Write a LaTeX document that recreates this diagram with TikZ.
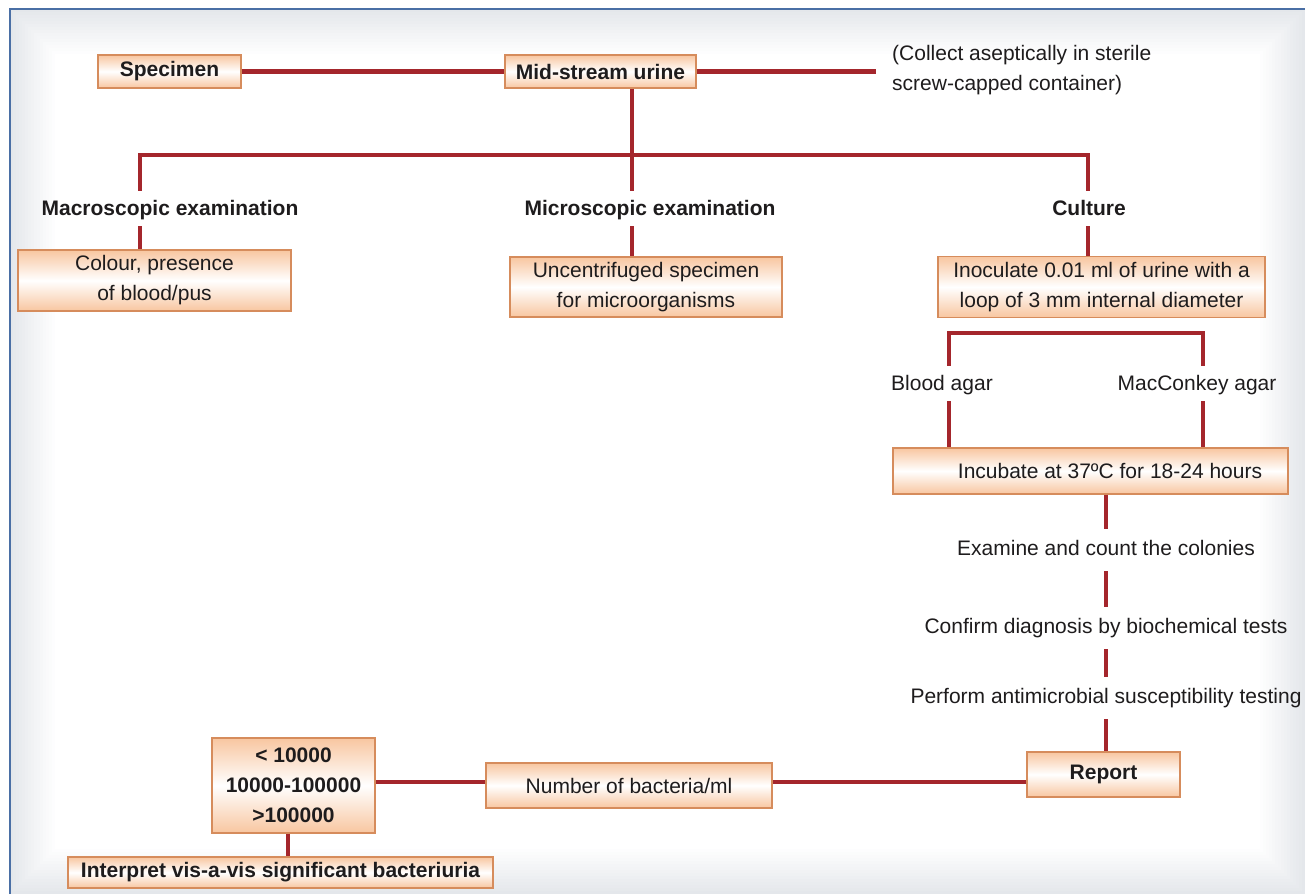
\documentclass[tikz,border=0pt]{standalone}
\usepackage{fontspec}
\setmainfont{Liberation Sans}
\usetikzlibrary{calc}
\definecolor{lred}{HTML}{A4262C}
\definecolor{boxbd}{HTML}{D68C5C}
\definecolor{boxor}{HTML}{F8C6A0}
\definecolor{txt}{HTML}{1E1C1D}
\definecolor{bgg}{HTML}{E4E7EB}
\definecolor{frameblue}{HTML}{4A6FA5}
\begin{document}
\begin{tikzpicture}[x=1pt,y=-1pt,
  font=\fontsize{21}{30}\selectfont, text=txt,
  box/.style={draw=boxbd, line width=1.3pt, top color=boxor, bottom color=boxor, middle color=white, inner sep=0pt, align=center},
  conn/.style={draw=lred, line width=4.6pt, line cap=butt, line join=miter},
  lab/.style={text height=15pt, text depth=2pt, inner ysep=9pt, inner xsep=0pt, anchor=base},
  chainlab/.style={text height=15pt, text depth=5pt, inner ysep=11pt, inner xsep=0pt, anchor=base},
  bold/.style={font=\fontsize{21}{30}\selectfont\bfseries}
]
\useasboundingbox (0,0) rectangle (1305,894);
% background
\fill[white] (0,0) rectangle (1305,894);
\foreach \i in {0,...,15} {
  \pgfmathsetmacro\p{\i*100/15}
  \fill[white!\p!bgg] (10+3*\i, 9+3*\i) rectangle (1305-3*\i, 894-3*\i);
}
\draw[frameblue, line width=2pt] (10,894) -- (10,9) -- (1305,9);

% boxes
\node[box, minimum width=143pt, minimum height=33pt] (spec) at (169.5,71.5) {\bfseries Specimen};
\node[box, minimum width=191pt, minimum height=33pt] (msu) at (600.5,71.5) {\bfseries Mid-stream urine};
\node[anchor=west, align=left, inner sep=0pt] (collect) at (892,70) {(Collect aseptically in sterile\\screw-capped container)};

\node[lab, bold] (macro) at (170,215) {Macroscopic examination};
\node[lab, bold] (micro) at (650,215) {Microscopic examination};
\node[lab, bold] (cult) at (1089,215) {Culture};

\node[box, minimum width=273pt, minimum height=61pt] (colour) at (154.5,280.5) {Colour, presence\\of blood/pus};
\node[box, minimum width=272pt, minimum height=60pt] (uncent) at (646,287) {Uncentrifuged specimen\\for microorganisms};
\node[box, minimum width=327pt, minimum height=61pt] (inoc) at (1101.5,287) {Inoculate 0.01 ml of urine with a\\loop of 3 mm internal diameter};

\node[lab] (blood) at (942,390) {Blood agar};
\node[lab] (mac) at (1197,390) {MacConkey agar};

\node[box, minimum width=395pt, minimum height=46pt] (incub) at (1090.5,471) {\hspace*{39pt}Incubate at 37ºC for 18-24 hours};

\node[chainlab] (exam) at (1106,555) {Examine and count the colonies};
\node[chainlab] (confirm) at (1106,633) {Confirm diagnosis by biochemical tests};
\node[chainlab] (perform) at (1106,703) {Perform antimicrobial susceptibility testing};

\node[box, minimum width=153pt, minimum height=45pt] (report) at (1103.5,774.5) {\bfseries Report};
\node[box, minimum width=286pt, minimum height=45pt] (number) at (629,785.5) {Number of bacteria/ml};
\node[box, minimum width=163pt, minimum height=95pt] (values) at (293.5,785.5) {\bfseries < 10000\\\bfseries 10000-100000\\\bfseries >100000};
\node[box, minimum width=425pt, minimum height=31pt] (interp) at (280.5,872.5) {\bfseries Interpret vis-a-vis significant bacteriuria};

% connectors
\coordinate (cend) at (876,71.5);
\coordinate (j0) at (632,155);
\coordinate (jL) at (140,155);
\coordinate (jR) at (1088,155);
\coordinate (bL) at (949,333);
\coordinate (bR) at (1203,333);
\coordinate (cx) at (1106,500);
\coordinate (hb) at (0,782);
\coordinate (ix) at (288,850);

\draw[conn] (spec) -- (msu);
\draw[conn] (msu) -- (cend);
\draw[conn] (msu.south -| j0) -- (j0);
\draw[conn] (jL |- macro.north) -- (jL) -- (jR) -- (jR |- cult.north);
\draw[conn] (j0) -- (j0 |- micro.north);
\draw[conn] (macro.south -| jL) -- (colour.north -| jL);
\draw[conn] (micro.south -| j0) -- (uncent.north -| j0);
\draw[conn] (cult.south -| jR) -- (inoc.north -| jR);
\draw[conn] (bL |- blood.north) -- (bL) -- (bR) -- (bR |- mac.north);
\draw[conn] (blood.south -| bL) -- (incub.north -| bL);
\draw[conn] (mac.south -| bR) -- (incub.north -| bR);
\draw[conn] (incub.south -| cx) -- (exam.north -| cx);
\draw[conn] (exam.south -| cx) -- (confirm.north -| cx);
\draw[conn] (confirm.south -| cx) -- (perform.north -| cx);
\draw[conn] (perform.south -| cx) -- (report.north -| cx);
\draw[conn] (report.west |- hb) -- (number.east |- hb);
\draw[conn] (number.west |- hb) -- (values.east |- hb);
\draw[conn] (values.south -| ix) -- (interp.north -| ix);
\end{tikzpicture}
\end{document}
